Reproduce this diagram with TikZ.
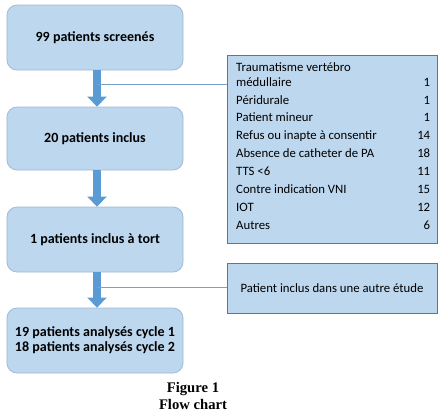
\documentclass[tikz,border=0pt]{standalone}
\usepackage{fontspec}
\setmainfont{Carlito}
\newfontfamily\capfont{Liberation Serif}
\usetikzlibrary{arrows.meta}
\definecolor{boxfill}{HTML}{BDD7EE}
\definecolor{leftborder}{RGB}{160,186,216}
\definecolor{rightborder}{RGB}{84,120,162}
\definecolor{arrowblue}{HTML}{5B9BD5}
\definecolor{connblue}{RGB}{122,162,206}
\tikzset{
  leftbox/.style={draw=leftborder, fill=boxfill, rounded corners=10bp, line width=0.8bp,
    minimum width=176bp, minimum height=65bp, inner sep=0pt, align=center,
    font=\fontsize{14.1}{15}\selectfont\bfseries},
  rightbox/.style={draw=rightborder, fill=boxfill, line width=0.8bp, inner sep=0pt,
    minimum width=210bp},
  bigarrow/.style={draw=arrowblue, line width=8bp, -{Triangle[width=19bp,length=10bp]}},
  conn/.style={draw=connblue, line width=1bp},
}
\begin{document}
\begin{tikzpicture}[x=1bp,y=-1bp]
\useasboundingbox[fill=white] (0,0) rectangle (445,416);
% left column
\node[leftbox] (b1) at (95,37.5) {99 patients screenés};
\node[leftbox, minimum height=63bp] (b2) at (95,138.5) {20 patients inclus};
\node[leftbox] (b3) at (95,239.5) {1 patients inclus à tort};
\node[leftbox] (b4) at (95,340.5) {19 patients analysés cycle 1\\18 patients analysés cycle 2};
% arrows
\draw[bigarrow] ([xshift=2bp]b1.south) -- ([xshift=2bp]b2.north);
\draw[bigarrow] ([xshift=2bp]b2.south) -- ([xshift=2bp]b3.north);
\draw[bigarrow] ([xshift=2bp]b3.south) -- ([xshift=2bp]b4.north);
% right boxes
\node[rightbox, minimum height=188bp] (rb1) at (332,149) {};
\node[anchor=north west, inner sep=0pt, font=\fontsize{12.8}{18}\selectfont] (list) at (236,58.4)
  {\begin{tabular*}{194bp}{@{}l@{\extracolsep{\fill}}r@{}}
   Traumatisme vertébro & \\[-3bp]
   médullaire & 1\\
   Péridurale & 1\\
   Patient mineur & 1\\
   Refus ou inapte à consentir & 14\\
   Absence de catheter de PA & 18\\
   TTS <6 & 11\\
   Contre indication VNI & 15\\
   IOT & 12\\
   Autres & 6
   \end{tabular*}};
\node[rightbox, minimum height=50bp, font=\fontsize{12.8}{15}\selectfont] (rb2) at (332,288)
  {Patient inclus dans une autre étude};
% connectors
\coordinate (j1) at (97,84);
\coordinate (j2) at (97,287);
\draw[conn] (j1) -- (j1 -| rb1.west);
\draw[conn] (j2) -- (j2 -| rb2.west);
% caption
\node[font=\capfont\bfseries\fontsize{14.7}{16.5}\selectfont, align=center, inner sep=0pt] (cap) at (193,396)
  {Figure 1\\Flow chart};
\end{tikzpicture}
\end{document}
